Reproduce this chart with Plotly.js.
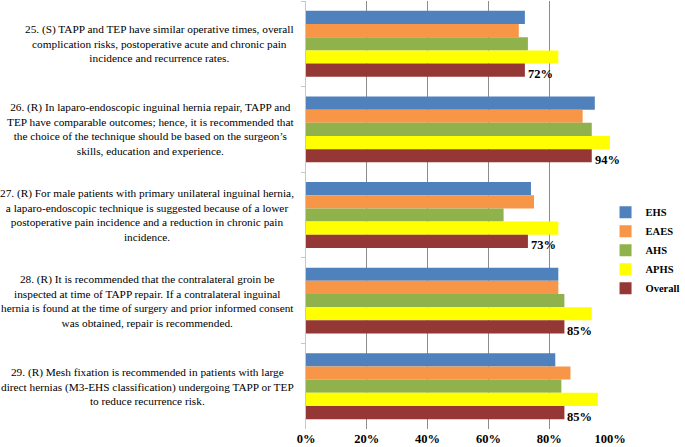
<!DOCTYPE html>
<html>
<head>
<meta charset="utf-8">
<script src="https://cdn.plot.ly/plotly-3.0.1.min.js"></script>
<style>html,body{margin:0;padding:0;background:#fff;}#chart{width:685px;height:447px;}</style>
</head>
<body>
<div id="chart"></div>
<script>
const categories = ['25', '26', '27', '28', '29'];
const statements = [
  '25. (S) TAPP and TEP have similar operative times, overall<br>complication risks, postoperative acute and chronic pain<br>incidence and recurrence rates.',
  '26. (R) In laparo-endoscopic inguinal hernia repair, TAPP and<br>TEP have comparable outcomes; hence, it is recommended that<br>the choice of the technique should be based on the surgeon\u2019s<br>skills, education and experience.',
  '27. (R) For male patients with primary unilateral inguinal hernia,<br>a laparo-endoscopic technique is suggested because of a lower<br>postoperative pain incidence and a reduction in chronic pain<br>incidence.',
  '28. (R) It is recommended that the contralateral groin be<br>inspected at time of TAPP repair. If a contralateral inguinal<br>hernia is found at the time of surgery and prior informed consent<br>was obtained, repair is recommended.',
  '29. (R) Mesh fixation is recommended in patients with large<br>direct hernias (M3-EHS classification) undergoing TAPP or TEP<br>to reduce recurrence risk.'
];
const seriesNames = ['EHS', 'EAES', 'AHS', 'APHS', 'Overall'];
const EHS = [72, 95, 74, 83, 82];
const EAES = [70, 91, 75, 83, 87];
const AHS = [73, 94, 65, 85, 84];
const APHS = [83, 100, 83, 94, 96];
const Overall = [72, 94, 73, 85, 85];
const xTicks = [0, 20, 40, 60, 80, 100];
const xTickLabels = ['0%', '20%', '40%', '60%', '80%', '100%'];

const colors = ['#4F81BD', '#F79646', '#8FB24C', '#FFFF00', '#953735'];
const values = [EHS, EAES, AHS, APHS, Overall];
const SERIF = '"Liberation Serif", "Times New Roman", Times, serif';

const traces = seriesNames.map((n, i) => ({
  type: 'bar', orientation: 'h', name: n,
  y: categories, x: values[i],
  marker: {color: colors[i]},
  hoverinfo: 'x+name'
}));

const bargap = 0.23;
const barW = (1 - bargap) / seriesNames.length;
const overallIdx = seriesNames.indexOf('Overall');
const offset = (overallIdx - (seriesNames.length - 1) / 2) * barW;

const annotations = [];
statements.forEach((s, i) => {
  annotations.push({
    xref: 'paper', yref: 'y', x: -0.033, y: i, xanchor: 'right', yanchor: 'middle',
    text: s, align: 'center', showarrow: false,
    font: {family: SERIF, size: 11.3, color: '#000'}
  });
});
Overall.forEach((v, i) => {
  annotations.push({
    xref: 'x', yref: 'y', x: v, y: i + offset, xanchor: 'left', yanchor: 'middle',
    xshift: 1, yshift: -4,
    text: '<b>' + v + '%</b>', showarrow: false,
    font: {family: SERIF, size: 12.5, color: '#000'}
  });
});

const layout = {
  width: 685, height: 447,
  margin: {l: 306, r: 75, t: 1, b: 18, autoexpand: false},
  paper_bgcolor: '#fff', plot_bgcolor: '#fff',
  barmode: 'group', bargap: bargap, bargroupgap: 0,
  showlegend: true,
  legend: {
    xref: 'container', yref: 'container',
    x: 0.884, xanchor: 'left', y: 0.44, yanchor: 'middle',
    bgcolor: 'rgba(0,0,0,0)',
    font: {family: SERIF, size: 10.5, color: '#000', weight: 'bold'},
    traceorder: 'normal', itemwidth: 30, tracegroupgap: 0
  },
  xaxis: {
    range: [0, 100], tickvals: xTicks, ticktext: xTickLabels.map(t => '<b>' + t + '</b>'),
    showgrid: true, gridcolor: '#8c8c8c', gridwidth: 1,
    zeroline: false, showline: false,
    tickfont: {family: SERIF, size: 12.5, color: '#000'},
    ticks: '', fixedrange: true
  },
  yaxis: {
    type: 'category', autorange: 'reversed',
    showticklabels: false, showgrid: false, zeroline: false,
    showline: true, linecolor: '#c8c8c8', linewidth: 1,
    ticks: 'outside', tickson: 'boundaries', ticklen: 4, tickcolor: '#c8c8c8'
  },
  annotations: annotations
};

Plotly.newPlot('chart', traces, layout, {displayModeBar: false, staticPlot: true});
</script>
</body>
</html>
